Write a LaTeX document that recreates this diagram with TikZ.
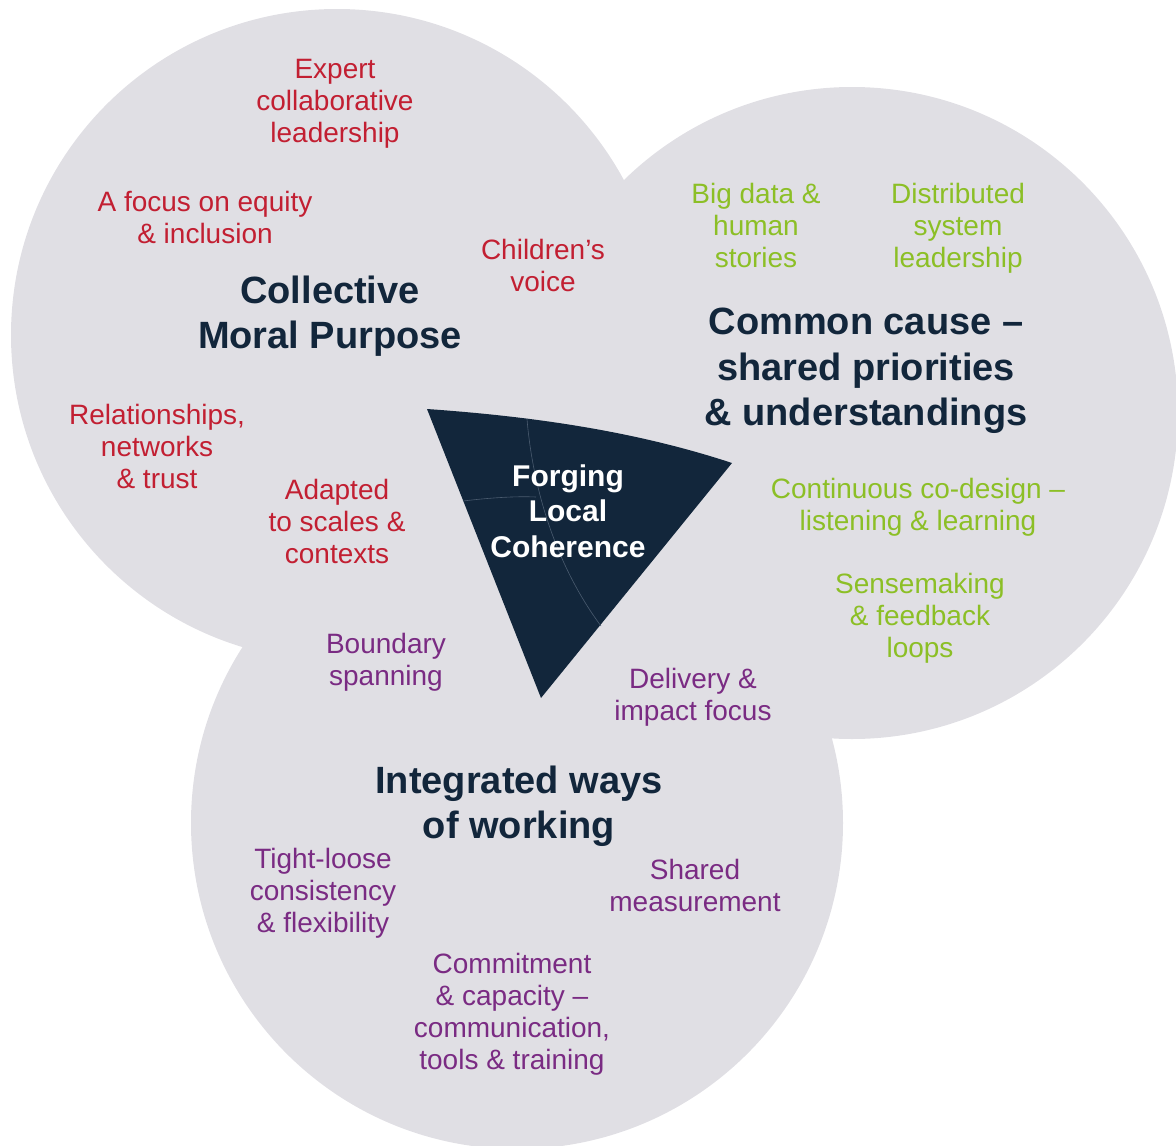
\documentclass[tikz,border=0pt]{standalone}
\usepackage{fontspec}
\setmainfont{Liberation Sans}
\definecolor{discgray}{HTML}{E0DFE4}
\definecolor{navy}{HTML}{12263B}
\definecolor{seamline}{HTML}{4A5B6F}
\definecolor{moralred}{HTML}{C21F32}
\definecolor{causegreen}{HTML}{8CBF26}
\definecolor{waypurple}{HTML}{7A2B83}
\begin{document}
\begin{tikzpicture}[x=1pt,y=-1pt,
  disc/.style={fill=discgray},
  item/.style={align=center,inner sep=0pt,font=\fontsize{28}{32}\selectfont},
  heading/.style={align=center,inner sep=0pt,text=navy,font=\fontsize{38}{45.5}\selectfont\bfseries},
  moral/.style={item,text=moralred},
  cause/.style={item,text=causegreen},
  ways/.style={item,text=waypurple}]
\useasboundingbox (0,0) rectangle (1176,1146);

% the three overlapping discs
\fill[disc] (337,335) circle (326);
\fill[disc] (852,413) circle (326);
\fill[disc] (517,823) circle (326);

% central wedge
\coordinate (apex) at (541,698);
\coordinate (wl) at (427,409);
\coordinate (wr) at (732,463);
\fill[navy] (apex) -- (wl) .. controls (527,416) and (632,430) .. (wr) -- cycle;
\coordinate (sa) at (527,419);
\coordinate (sb) at (601,626);
\coordinate (sc) at (463,501);
\coordinate (sd) at (536,497);
\draw[seamline,line width=0.6pt] (sa) .. controls (532,480) and (552,560) .. (sb);
\draw[seamline,line width=0.6pt] (sc) .. controls (488,498) and (515,496) .. (sd);
\node[align=center,inner sep=0pt,text=white,font=\fontsize{30}{35.5}\selectfont\bfseries]
  (core) at (568,511) {Forging\\Local\\Coherence};

% headings
\node[heading] (hmoral) at (330,316) {Collective\\Moral Purpose};
\node[heading] (hcause) at (866,371) {Common cause –\\shared priorities\\\& understandings};
\node[heading] (hways) at (519,806) {Integrated ways\\of working};

% collective moral purpose
\node[moral] (m1) at (335,104) {Expert\\collaborative\\leadership};
\node[moral] (m2) at (205,217) {A focus on equity\\\& inclusion};
\node[moral] (m3) at (543,265) {Children’s\\voice};
\node[moral] (m4) at (157,446) {Relationships,\\networks\\\& trust};
\node[moral] (m5) at (337,521) {Adapted\\to scales \&\\contexts};

% common cause
\node[cause] (c1) at (756,225) {Big data \&\\human\\stories};
\node[cause] (c2) at (958,228) {Distributed\\system\\leadership};
\node[cause] (c3) at (918,507) {Continuous co-design –\\listening \& learning};
\node[cause] (c4) at (920,618) {Sensemaking\\\& feedback\\loops};

% integrated ways of working
\node[ways] (w1) at (386,662) {Boundary\\spanning};
\node[ways] (w2) at (693,697) {Delivery \&\\impact focus};
\node[ways] (w3) at (323,893) {Tight-loose\\consistency\\\& flexibility};
\node[ways] (w4) at (695,885) {Shared\\measurement};
\node[ways] (w5) at (512,1014) {Commitment\\\& capacity –\\communication,\\tools \& training};
\end{tikzpicture}
\end{document}
